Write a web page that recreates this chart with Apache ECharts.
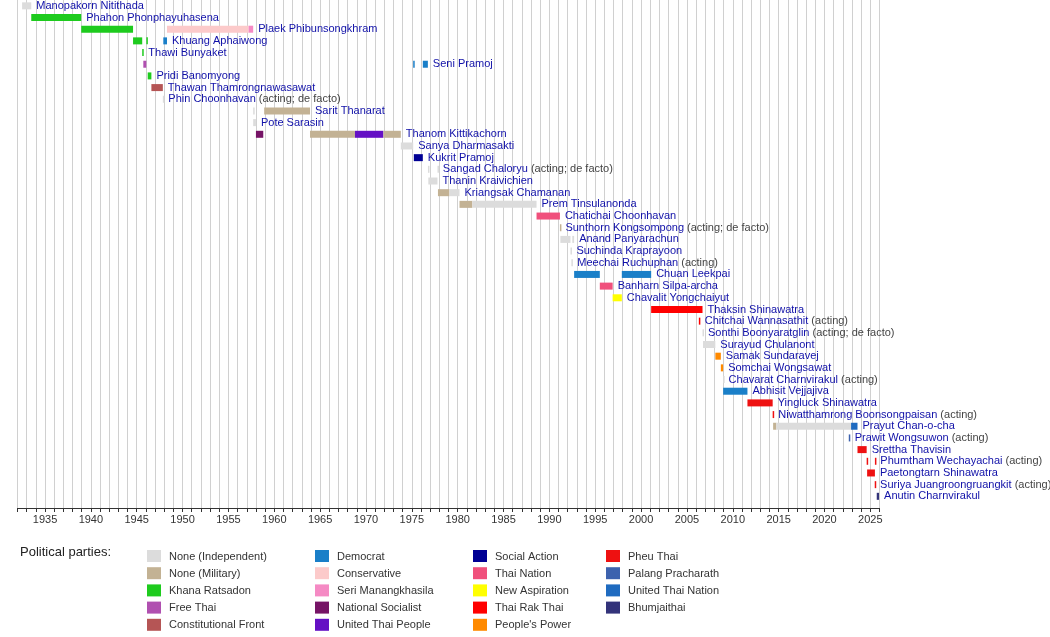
<!DOCTYPE html>
<html><head><meta charset="utf-8">
<script src="https://cdn.jsdelivr.net/npm/echarts@6/dist/echarts.min.js"></script>
<style>html,body{margin:0;padding:0;background:#fff}</style>
</head><body>
<div id="main" style="width:1050px;height:637px"></div>
<script>
// parties: name, colour
var partyNames = ['None (Independent)', 'None (Military)', 'Khana Ratsadon', 'Free Thai', 'Constitutional Front',
  'Democrat', 'Conservative', 'Seri Manangkhasila', 'National Socialist', 'United Thai People',
  'Social Action', 'Thai Nation', 'New Aspiration', 'Thai Rak Thai', "People's Power",
  'Pheu Thai', 'Palang Pracharath', 'United Thai Nation', 'Bhumjaithai'];
var partyColors = ['#dcdcdc', '#c3b294', '#1ecb1e', '#b050b0', '#b55555',
  '#1a7fc8', '#fccaca', '#f58ac4', '#761466', '#6410c4',
  '#000094', '#f0507c', '#ffff00', '#ff0000', '#ff8a00',
  '#ee1111', '#3d62ae', '#1f6bc0', '#33337a'];

// prime ministers in row order, with suffix note
var pmNames = ['Manopakorn Nitithada', 'Phahon Phonphayuhasena', 'Plaek Phibunsongkhram', 'Khuang Aphaiwong',
  'Thawi Bunyaket', 'Seni Pramoj', 'Pridi Banomyong', 'Thawan Thamrongnawasawat', 'Phin Choonhavan',
  'Sarit Thanarat', 'Pote Sarasin', 'Thanom Kittikachorn', 'Sanya Dharmasakti', 'Kukrit Pramoj',
  'Sangad Chaloryu', 'Thanin Kraivichien', 'Kriangsak Chamanan', 'Prem Tinsulanonda', 'Chatichai Choonhavan',
  'Sunthorn Kongsompong', 'Anand Panyarachun', 'Suchinda Kraprayoon', 'Meechai Ruchuphan', 'Chuan Leekpai',
  'Banharn Silpa-archa', 'Chavalit Yongchaiyut', 'Thaksin Shinawatra', 'Chitchai Wannasathit',
  'Sonthi Boonyaratglin', 'Surayud Chulanont', 'Samak Sundaravej', 'Somchai Wongsawat',
  'Chavarat Charnvirakul', 'Abhisit Vejjajiva', 'Yingluck Shinawatra', 'Niwatthamrong Boonsongpaisan',
  'Prayut Chan-o-cha', 'Prawit Wongsuwon', 'Srettha Thavisin', 'Phumtham Wechayachai',
  'Paetongtarn Shinawatra', 'Suriya Juangroongruangkit', 'Anutin Charnvirakul'];
var pmNotes = ['', '', '', '', '', '', '', '', '(acting; de facto)', '', '', '', '', '',
  '(acting; de facto)', '', '', '', '', '(acting; de facto)', '', '', '(acting)', '', '', '', '',
  '(acting)', '(acting; de facto)', '', '', '', '(acting)', '', '', '(acting)', '', '(acting)', '',
  '(acting)', '', '(acting)', ''];

// terms: [row, start, end, party index]
var terms = [
  [0, 1932.5, 1933.5, 0],
  [1, 1933.5, 1938.95, 2],
  [2, 1938.95, 1944.6, 2], [2, 1948.3, 1957.2, 6], [2, 1957.2, 1957.7, 7],
  [3, 1944.6, 1945.6, 2], [3, 1946.05, 1946.2, 2], [3, 1947.9, 1948.3, 5],
  [4, 1945.6, 1945.72, 2],
  [5, 1945.72, 1946.05, 3], [5, 1975.15, 1975.22, 5], [5, 1976.2, 1976.75, 5],
  [6, 1946.2, 1946.6, 2],
  [7, 1946.6, 1947.85, 4],
  [8, 1947.85, 1947.9, 0],
  [9, 1957.7, 1957.75, 0], [9, 1958.9, 1963.9, 1],
  [10, 1957.7, 1958.0, 0],
  [11, 1958.0, 1958.8, 8], [11, 1963.9, 1968.8, 1], [11, 1968.8, 1971.9, 9], [11, 1971.9, 1973.8, 1],
  [12, 1973.8, 1975.15, 0],
  [13, 1975.22, 1976.2, 10],
  [14, 1976.76, 1976.8, 0], [14, 1977.8, 1977.84, 0],
  [15, 1976.8, 1977.8, 0],
  [16, 1977.85, 1979.1, 1], [16, 1979.1, 1980.2, 0],
  [17, 1980.2, 1981.6, 1], [17, 1981.6, 1988.6, 0],
  [18, 1988.6, 1991.15, 11],
  [19, 1991.15, 1991.2, 1],
  [20, 1991.2, 1992.3, 0], [20, 1992.5, 1992.7, 0],
  [21, 1992.3, 1992.4, 0],
  [22, 1992.4, 1992.5, 0],
  [23, 1992.7, 1995.5, 5], [23, 1997.9, 2001.1, 5],
  [24, 1995.5, 1996.9, 11],
  [25, 1996.9, 1997.9, 12],
  [26, 2001.1, 2006.7, 13],
  [27, 2006.3, 2006.4, 13],
  [28, 2006.7, 2006.75, 0],
  [29, 2006.75, 2008.1, 0],
  [30, 2008.1, 2008.7, 14],
  [31, 2008.7, 2008.95, 14],
  [32, 2008.95, 2009.0, 0],
  [33, 2008.95, 2011.6, 5],
  [34, 2011.6, 2014.35, 15],
  [35, 2014.35, 2014.42, 15],
  [36, 2014.4, 2014.75, 1], [36, 2014.75, 2022.9, 0], [36, 2022.9, 2023.6, 17],
  [37, 2022.65, 2022.75, 16],
  [38, 2023.6, 2024.6, 15],
  [39, 2024.6, 2024.65, 15], [39, 2025.5, 2025.55, 15],
  [40, 2024.65, 2025.5, 15],
  [41, 2025.48, 2025.52, 15],
  [42, 2025.7, 2025.95, 18]
];

var yearTicks = [1935, 1940, 1945, 1950, 1955, 1960, 1965, 1970, 1975, 1980, 1985, 1990, 1995, 2000, 2005, 2010, 2015, 2020, 2025];

var labelData = pmNames.map(function (n, i) {
  var end = 0;
  terms.forEach(function (t) { if (t[0] === i && t[2] > end) end = t[2]; });
  return [end, i, n, pmNotes[i]];
});

var myChart = echarts.init(document.getElementById('main'));

var legendGraphics = [{
  type: 'text', left: 20, top: 546,
  style: { text: 'Political parties:', font: '13px "Liberation Sans", Arial', fill: '#222' }
}];
var colX = [147, 315, 473, 606];
partyNames.forEach(function (p, i) {
  var c = Math.floor(i / 5), r = i % 5;
  var y = 550 + r * 17.2;
  legendGraphics.push({ type: 'rect', shape: { x: colX[c], y: y, width: 14, height: 12 }, style: { fill: partyColors[i] } });
  legendGraphics.push({ type: 'text', x: colX[c] + 22, y: y + 1, style: { text: p, font: '11px "Liberation Sans", Arial', fill: '#333' } });
});

var option = {
  animation: false,
  grid: { left: 17.5, right: 170.5, top: 0, height: 508 },
  xAxis: {
    type: 'value', min: 1932, max: 2026, interval: 1,
    axisLine: { onZero: false, lineStyle: { color: '#333' } },
    axisTick: { length: 4, lineStyle: { color: '#333' } },
    axisLabel: {
      color: '#333', fontSize: 11, fontFamily: 'Liberation Sans', margin: 6,
      formatter: function (v) { return yearTicks.indexOf(v) >= 0 ? String(v) : ''; }
    },
    splitLine: { show: true, lineStyle: { color: '#d0d0d0', width: 1 } }
  },
  yAxis: { type: 'value', min: -0.5, max: 43, inverse: true, show: false },
  graphic: legendGraphics,
  series: [{
    type: 'custom',
    data: terms,
    encode: { x: [1, 2], y: 0 },
    renderItem: function (params, api) {
      var s = api.coord([api.value(1), api.value(0)]);
      var e = api.coord([api.value(2), api.value(0)]);
      var w = Math.max(e[0] - s[0], 1.5);
      return { type: 'rect', shape: { x: s[0], y: s[1] - 3.5, width: w, height: 7 },
        style: { fill: partyColors[api.value(3)] } };
    }
  }, {
    type: 'custom',
    data: labelData,
    renderItem: function (params, api) {
      var p = api.coord([api.value(0), api.value(1)]);
      var d = labelData[params.dataIndex];
      return { type: 'text', x: p[0] + 5, y: p[1],
        style: {
          text: '{n|' + d[2] + '}' + (d[3] ? '{a| ' + d[3] + '}' : ''),
          verticalAlign: 'middle',
          rich: {
            n: { fill: '#1010a8', font: '11px "Liberation Sans", Arial' },
            a: { fill: '#444', font: '11px "Liberation Sans", Arial' }
          }
        } };
    }
  }]
};
myChart.setOption(option);
</script>
</body></html>
